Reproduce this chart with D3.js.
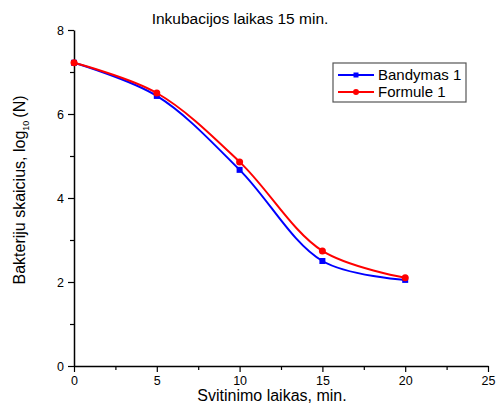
<!DOCTYPE html>
<html>
<head>
<meta charset="utf-8">
<script src="https://cdn.jsdelivr.net/npm/d3@7"></script>
<style>
  body { margin: 0; background: #fff; }
  text { font-family: "Liberation Sans", Arial, sans-serif; }
</style>
</head>
<body>
<div id="chart"></div>
<script>
// data
const minutes = [0, 5, 10, 15, 20]
const bandymas = [7.22, 6.43, 4.67, 2.50, 2.05]
const formule = [7.22, 6.50, 4.86, 2.74, 2.10]
const xTicks = [0, 5, 10, 15, 20, 25]
const yTicks = [0, 2, 4, 6, 8]

const blue = "#0000ff", red = "#ff0000"

var margin = {top: 30, right: 8, bottom: 41, left: 74},
    width = 488 - margin.left,
    height = 366 - margin.top;

var svg = d3.select("#chart").append("svg")
    .attr("width", 496).attr("height", 407)
  .append("g")
    .attr("transform", "translate(" + margin.left + "," + margin.top + ")");

var x = d3.scaleLinear().domain([0, 25]).range([0, width]);
var y = d3.scaleLinear().domain([0, 8]).range([height, 0]);

// minor ticks
svg.append("g").attr("transform", "translate(0," + height + ")")
  .call(d3.axisBottom(x).tickValues(d3.range(2.5, 25, 5)).tickSize(4).tickFormat(""))
  .call(g => g.select(".domain").remove());
svg.append("g")
  .call(d3.axisLeft(y).tickValues([1, 3, 5, 7]).tickSize(4).tickFormat(""))
  .call(g => g.select(".domain").remove());

// major axes
var xAxis = svg.append("g").attr("transform", "translate(0," + height + ")")
  .call(d3.axisBottom(x).tickValues(xTicks).tickSize(6).tickSizeOuter(0));
var yAxis = svg.append("g")
  .call(d3.axisLeft(y).tickValues(yTicks).tickSize(6).tickSizeOuter(0));

svg.selectAll(".domain").attr("stroke-width", 1.5);
svg.selectAll(".tick line").attr("stroke-width", 1.2);
xAxis.selectAll(".tick text").attr("font-size", 12.5).attr("fill", "#000").attr("dy", "0.6em").attr("y", 11);
yAxis.selectAll(".tick text").attr("font-size", 12.5).attr("fill", "#000").attr("x", -10);

var line = d3.line()
    .x(function(d) { return x(d[0]); })
    .y(function(d) { return y(d[1]); })
    .curve(d3.curveCatmullRom);

var series = [
  {name: "Bandymas 1", values: bandymas, color: blue, shape: "square"},
  {name: "Formule 1", values: formule, color: red, shape: "circle"}
];

series.forEach(function(s) {
  var pts = minutes.map(function(m, i) { return [m, s.values[i]]; });
  svg.append("path").datum(pts)
    .attr("fill", "none").attr("stroke", s.color).attr("stroke-width", 2)
    .attr("d", line);
  if (s.shape == "square") {
    svg.selectAll(null).data(pts).enter().append("rect")
      .attr("x", d => x(d[0]) - 3).attr("y", d => y(d[1]) - 3)
      .attr("width", 6).attr("height", 6).attr("fill", s.color);
  } else {
    svg.selectAll(null).data(pts).enter().append("circle")
      .attr("cx", d => x(d[0])).attr("cy", d => y(d[1]))
      .attr("r", 3.5).attr("fill", s.color);
  }
});

// legend
var legend = svg.append("g").attr("transform", "translate(" + (333 - margin.left) + "," + (63 - margin.top) + ")");
legend.append("rect").attr("width", 133).attr("height", 39)
  .attr("fill", "#fff").attr("stroke", "#555").attr("stroke-width", 1.2);
series.forEach(function(s, i) {
  var ly = 12 + i * 17;
  legend.append("line").attr("x1", 5).attr("x2", 41).attr("y1", ly).attr("y2", ly)
    .attr("stroke", s.color).attr("stroke-width", 2);
  if (s.shape == "square")
    legend.append("rect").attr("x", 20.5).attr("y", ly - 2.5).attr("width", 5).attr("height", 5).attr("fill", s.color);
  else
    legend.append("circle").attr("cx", 23).attr("cy", ly).attr("r", 3).attr("fill", s.color);
  legend.append("text").attr("x", 45).attr("y", ly).attr("dy", "0.36em")
    .attr("font-size", 15).text(s.name);
});

// titles
svg.append("text").attr("x", 240 - margin.left).attr("y", 24 - margin.top)
  .attr("text-anchor", "middle").attr("font-size", 15.5).text("Inkubacijos laikas 15 min.");
svg.append("text").attr("x", 272 - margin.left).attr("y", 401 - margin.top)
  .attr("text-anchor", "middle").attr("font-size", 16).text("Svitinimo laikas, min.");
var yl = svg.append("text")
  .attr("transform", "translate(" + (25 - margin.left) + "," + (190 - margin.top) + ") rotate(-90)")
  .attr("text-anchor", "middle").attr("font-size", 16);
yl.append("tspan").text("Bakteriju skaicius, log");
yl.append("tspan").attr("font-size", 9).attr("dy", 4).text("10");
yl.append("tspan").attr("dy", -4).attr("dx", 3).text("(N)");
</script>
</body>
</html>
